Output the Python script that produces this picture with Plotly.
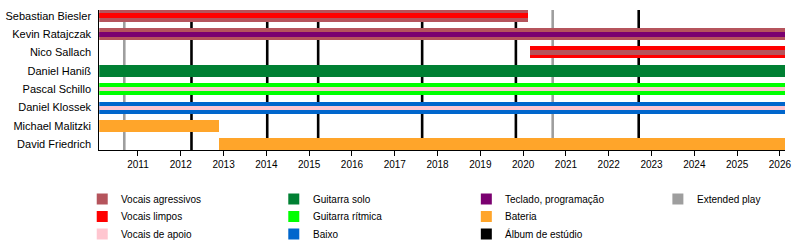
import plotly.graph_objects as go

# ---------------- data ----------------
members = ["Sebastian Biesler", "Kevin Ratajczak", "Nico Sallach", "Daniel Haniß",
           "Pascal Schillo", "Daniel Klossek", "Michael Malitzki", "David Friedrich"]
start_year = [2010.095, 2010.095, 2020.17, 2010.095, 2010.095, 2010.095, 2010.095, 2012.90]
end_year = [2020.11, 2026.12, 2026.12, 2026.12, 2026.12, 2026.12, 2012.90, 2026.12]
main_role = ["Vocais agressivos", "Vocais agressivos", "Vocais limpos", "Guitarra solo",
             "Guitarra rítmica", "Baixo", "Bateria", "Bateria"]
second_role = ["Vocais limpos", "Teclado, programação", "Vocais agressivos", None,
               "Vocais de apoio", "Vocais de apoio", None, None]

album_years = [2012.25, 2014.02, 2015.21, 2017.64, 2019.83, 2022.70]
ep_years = [2010.68, 2020.69]

year_ticks = list(range(2011, 2027))

legend_labels = ["Vocais agressivos", "Vocais limpos", "Vocais de apoio",
                 "Guitarra solo", "Guitarra rítmica", "Baixo",
                 "Teclado, programação", "Bateria", "Álbum de estúdio",
                 "Extended play"]

# ---------------- style ----------------
colors = {
    "Vocais agressivos": "#B5545C",
    "Vocais limpos": "#FF0000",
    "Vocais de apoio": "#FFC6D0",
    "Guitarra solo": "#008033",
    "Guitarra rítmica": "#00FF00",
    "Baixo": "#0066CC",
    "Teclado, programação": "#7A0070",
    "Bateria": "#FFA52A",
    "Álbum de estúdio": "#000000",
    "Extended play": "#9E9E9E",
}
FONT = "Liberation Sans, Arial, sans-serif"
W, H = 800, 250
PLOT_L, PLOT_R, PLOT_T, PLOT_B = 100, 791, 10, 150
x_range = [2010.095, 2026.12]
y_range = [7.31, -0.31]

fig = go.Figure()

# member bars (outer)
for i, m in enumerate(members):
    fig.add_trace(go.Bar(
        orientation="h", y=[i], base=[start_year[i]], x=[end_year[i] - start_year[i]],
        width=0.655, marker=dict(color=colors[main_role[i]], line=dict(width=0)),
        showlegend=False, hoverinfo="skip", xaxis="x", yaxis="y"))
# inner stripes
for i, m in enumerate(members):
    r2 = second_role[i]
    if r2 is None:
        continue
    w = 0.22 if r2 == "Vocais de apoio" else 0.27
    fig.add_trace(go.Bar(
        orientation="h", y=[i], base=[start_year[i]], x=[end_year[i] - start_year[i]],
        width=w, marker=dict(color=colors[r2], line=dict(width=0)),
        showlegend=False, hoverinfo="skip", xaxis="x", yaxis="y"))

shapes = []
for yr in album_years:
    shapes.append(dict(type="line", xref="x", yref="y domain", x0=yr, x1=yr, y0=0, y1=1,
                       line=dict(color=colors["Álbum de estúdio"], width=2.6), layer="below"))
for yr in ep_years:
    shapes.append(dict(type="line", xref="x", yref="y domain", x0=yr, x1=yr, y0=0, y1=1,
                       line=dict(color=colors["Extended play"], width=2.6), layer="below"))

# ---------------- legend (manual grid, pixel axes) ----------------
col_text_x = [120, 313, 507, 700]
row_y = [199, 216.5, 234]
lx, ly, annots = [], [], []
lcol = []
for k, lab in enumerate(legend_labels):
    c, r = divmod(k, 3)
    lx.append(col_text_x[c] - 17)
    ly.append(row_y[r])
    lcol.append(colors[lab])
    annots.append(dict(x=col_text_x[c], y=row_y[r], xref="x2", yref="y2", text=lab,
                       showarrow=False, xanchor="left", yanchor="middle",
                       font=dict(family=FONT, size=10, color="#000")))
fig.add_trace(go.Scatter(x=lx, y=ly, mode="markers", xaxis="x2", yaxis="y2",
                         marker=dict(symbol="square", size=11, color=lcol, line=dict(width=0)),
                         showlegend=False, hoverinfo="skip"))

fig.update_layout(
    width=W, height=H, margin=dict(l=0, r=0, t=0, b=0),
    paper_bgcolor="white", plot_bgcolor="rgba(0,0,0,0)",
    barmode="overlay", bargap=0, showlegend=False,
    font=dict(family=FONT, color="#000"),
    shapes=shapes, annotations=annots,
    xaxis=dict(domain=[PLOT_L / W, PLOT_R / W], range=x_range, tickvals=year_ticks,
               ticktext=[str(y) for y in year_ticks], ticks="outside", ticklen=5,
               tickcolor="#000", tickwidth=1, showline=True, linecolor="#000", linewidth=1,
               showgrid=False, zeroline=False, tickfont=dict(size=10, family=FONT),
               anchor="y"),
    yaxis=dict(domain=[(H - PLOT_B) / H, (H - PLOT_T) / H], range=y_range,
               tickvals=list(range(len(members))), ticktext=members, ticks="",
               showline=True, linecolor="#000", linewidth=1, showgrid=False,
               zeroline=False, tickfont=dict(size=11, family=FONT), anchor="x",
               ticklabelstandoff=5),
    xaxis2=dict(domain=[0, 1], range=[0, W], visible=False, anchor="y2", fixedrange=True),
    yaxis2=dict(domain=[0, 1], range=[H, 0], visible=False, anchor="x2", fixedrange=True),
)

fig.write_html("out.html")
